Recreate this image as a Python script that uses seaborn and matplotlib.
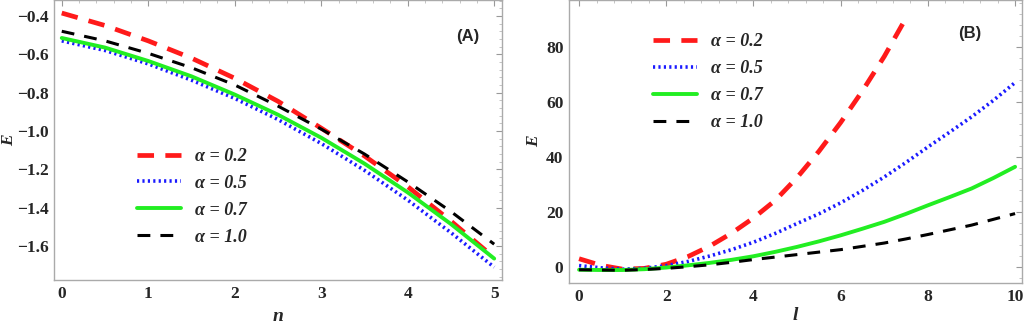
import numpy as np
import pandas as pd
import seaborn as sns
from matplotlib import pyplot as plt
from matplotlib.ticker import AutoMinorLocator

# panel A: E against n
n_vals = [0, 0.5, 1, 1.5, 2, 2.5, 3, 3.5, 4, 4.5, 5]
a_02 = [-0.385, -0.45, -0.53, -0.62, -0.725, -0.845, -0.985, -1.13, -1.29, -1.47, -1.66]
a_05 = [-0.53, -0.58, -0.65, -0.735, -0.83, -0.94, -1.065, -1.205, -1.36, -1.53, -1.71]
a_07 = [-0.515, -0.565, -0.635, -0.715, -0.81, -0.915, -1.035, -1.17, -1.32, -1.485, -1.665]
a_10 = [-0.48, -0.53, -0.595, -0.67, -0.76, -0.87, -0.99, -1.12, -1.265, -1.42, -1.59]

# panel B: E against l
l_red = [0, 0.5, 1, 1.5, 2, 2.5, 3, 3.5, 4, 4.5, 5, 5.5, 6, 6.5, 7, 7.5]
b_02 = [3.0, 0.6, -0.8, -0.5, 1.0, 3.8, 7.6, 12.3, 17.8, 24.2, 32.5, 42, 52.5, 64, 76.5, 90.5]
l_vals = [0, 0.5, 1, 1.5, 2, 2.5, 3, 3.5, 4, 4.5, 5, 5.5, 6, 6.5, 7, 7.5, 8, 8.5, 9, 9.5, 10]
b_05 = [0.5, -0.3, -0.8, -0.5, 0.5, 2.0, 4.0, 6.3, 9, 12.2, 15.8, 19.3, 23.3, 27.8,
        32.7, 38, 43.6, 49, 54.5, 60.5, 67]
b_07 = [-1.0, -1.1, -1.1, -0.8, -0.2, 0.6, 1.5, 2.6, 3.9, 5.5, 7.3, 9.3, 11.5, 13.9,
        16.4, 19.3, 22.4, 25.4, 28.5, 32.3, 36.4]
b_10 = [-1.0, -1.1, -1.2, -0.9, -0.5, 0.1, 0.8, 1.7, 2.7, 3.6, 4.5, 5.4, 6.3, 7.5,
        8.7, 10.2, 11.8, 13.5, 15.2, 17.3, 19.4]

labels = ['α = 0.2', 'α = 0.5', 'α = 0.7', 'α = 1.0']
styles = [dict(color='#ff1a1a', lw=3.4, dashes=(3.5, 2.4)),
          dict(color='#1a1aff', lw=2.6, dashes=(0.6, 0.9)),
          dict(color='#22ee22', lw=2.8, dashes=None),
          dict(color='black', lw=2.2, dashes=(4.2, 3.3))]

sns.set_style('white')
plt.rcParams['font.family'] = ['Liberation Serif', 'DejaVu Serif']

fig = plt.figure(figsize=(10.24, 3.23), dpi=100)
axA = fig.add_axes([0.0527, 0.133, 0.4375, 0.867])
axB = fig.add_axes([0.5557, 0.124, 0.4424, 0.876])


def draw(ax, xs_list, ys_list):
    for xs, ys, lab, st in zip(xs_list, ys_list, labels, styles):
        df = pd.DataFrame({'x': xs, 'y': ys})
        sns.lineplot(data=df, x='x', y='y', ax=ax, color=st['color'],
                     lw=st['lw'], label=lab, sort=False)
        l = ax.get_lines()[-1]
        if st['dashes'] is not None:
            l.set_dashes(st['dashes'])
            l.set_dash_capstyle('butt')


draw(axA, [n_vals] * 4, [a_02, a_05, a_07, a_10])
draw(axB, [l_red, l_vals, l_vals, l_vals], [b_02, b_05, b_07, b_10])

axA.set_xlim(-0.09, 5.09)
axA.set_ylim(-1.777, -0.317)
axA.set_yticks([-0.4, -0.6, -0.8, -1.0, -1.2, -1.4, -1.6])
axA.set_yticklabels(['−0.4', '−0.6', '−0.8', '−1.0', '−1.2', '−1.4', '−1.6'])
axA.set_xticks([0, 1, 2, 3, 4, 5])

axB.set_xlim(-0.23, 10.16)
axB.set_ylim(-5.8, 97)
axB.set_xticks([0, 2, 4, 6, 8, 10])
axB.set_yticks([0, 20, 40, 60, 80])

for ax, xl, xpos, ypos in [(axA, 'n', -0.083, -0.1), (axB, 'l', -0.06, -0.085)]:
    ax.set_xlabel(xl, fontsize=14, fontweight='bold', style='italic')
    ax.set_ylabel('E', fontsize=12.5, fontweight='bold', style='italic')
    ax.xaxis.set_label_coords(0.5, ypos)
    ax.yaxis.set_label_coords(xpos, 0.5)
    ax.xaxis.set_minor_locator(AutoMinorLocator(5))
    ax.yaxis.set_minor_locator(AutoMinorLocator(5))
    ax.tick_params(which='major', direction='in', length=4, color='#999999',
                   top=True, right=True, labelsize=12.5, pad=4)
    ax.tick_params(which='minor', direction='in', length=2, color='#bbbbbb',
                   top=True, right=True)
    for lbl in ax.get_xticklabels() + ax.get_yticklabels():
        lbl.set_fontweight('bold')
    for sp in ax.spines.values():
        sp.set_color('#aaaaaa')
        sp.set_linewidth(1.0)

legA = axA.legend(loc='upper left', bbox_to_anchor=(0.15, 0.53), frameon=False,
                  handlelength=2.4, handletextpad=0.8, labelspacing=0.55,
                  prop=dict(family='Liberation Serif', weight='bold', style='italic', size=13))
legB = axB.legend(loc='upper left', bbox_to_anchor=(0.15, 0.94), frameon=False,
                  handlelength=2.4, handletextpad=0.8, labelspacing=0.55,
                  prop=dict(family='Liberation Serif', weight='bold', style='italic', size=13))

axA.text(0.924, 0.87, '(A)', transform=axA.transAxes, ha='center', va='center',
         fontsize=12, fontweight='bold', family='Liberation Sans')
axB.text(0.885, 0.88, '(B)', transform=axB.transAxes, ha='center', va='center',
         fontsize=12, fontweight='bold', family='Liberation Sans')

fig.savefig('out.png', dpi=100)
